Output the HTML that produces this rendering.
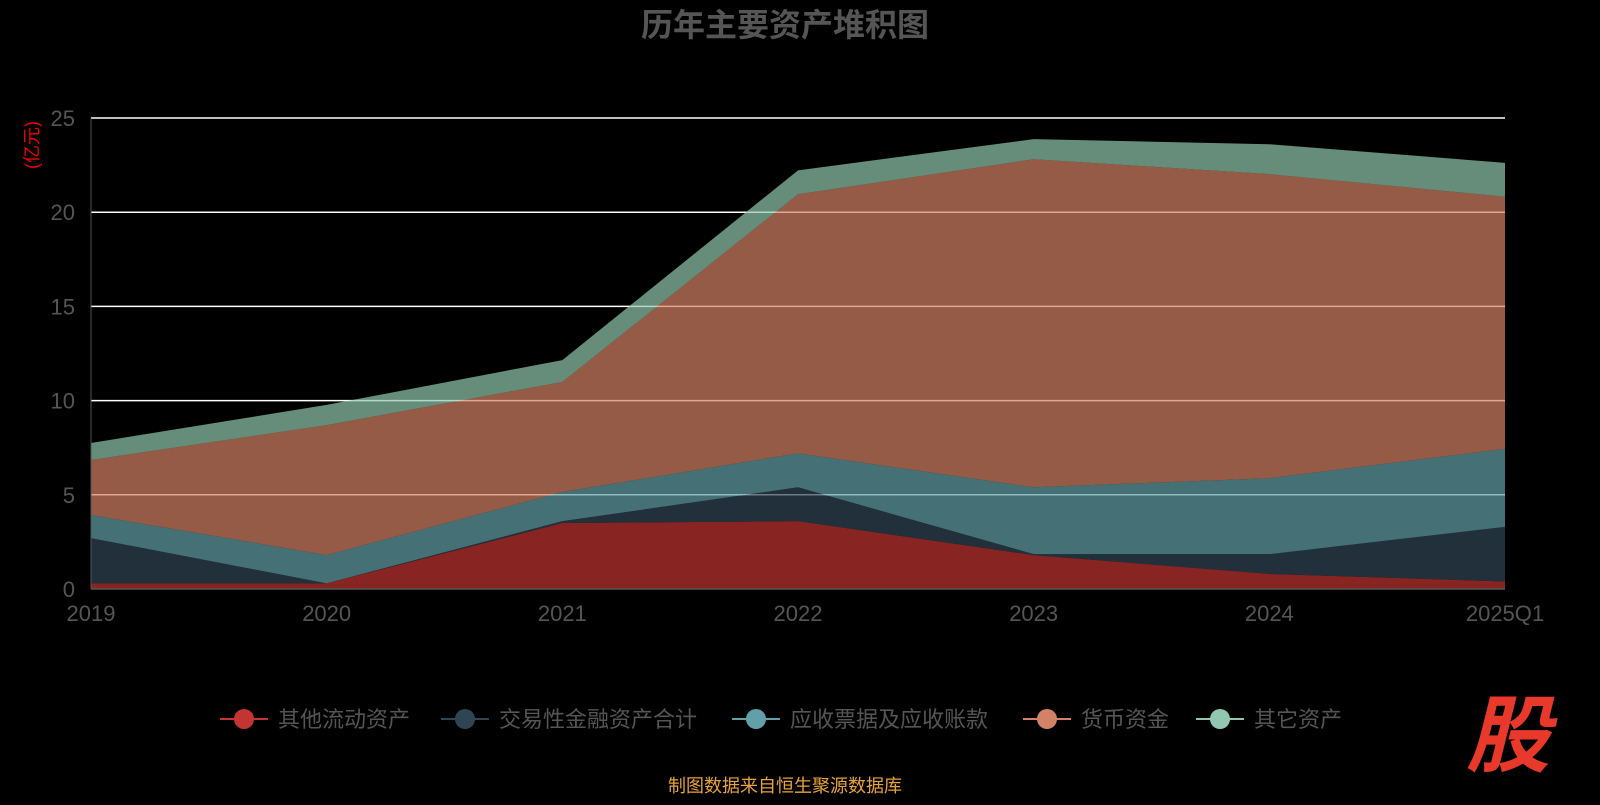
<!DOCTYPE html>
<html><head><meta charset="utf-8"><style>
body{margin:0;background:#000;width:1600px;height:800px;overflow:hidden;font-family:"Liberation Sans","Noto Sans CJK SC",sans-serif}
svg text{font-family:"Liberation Sans","Noto Sans CJK SC",sans-serif}
</style></head><body>
<svg id="chart" width="1600" height="800">
<text x="785" y="36" text-anchor="middle" font-size="32" font-weight="bold" fill="#555">历年主要资产堆积图</text>
<text transform="translate(38,145) rotate(-90)" text-anchor="middle" font-size="18" fill="#e00">(亿元)</text>
<g id="grid"></g><g id="areas"></g><g id="axes"></g>
<g id="legend"></g>
<text x="785" y="792" text-anchor="middle" font-size="18" fill="#e8a33b">制图数据来自恒生聚源数据库</text>
<text x="1508" y="765" text-anchor="middle" font-size="84" font-weight="bold" font-style="italic" fill="#e8392a">股</text>
</svg>
<script>
const categories=["2019","2020","2021","2022","2023","2024","2025Q1"];
const seriesNames=["其他流动资产","交易性金融资产合计","应收票据及应收账款","货币资金","其它资产"];
const s1=[0.3,0.3,3.5,3.6,1.8,0.8,0.4];
const s2=[2.4,0,0.1,1.8,0.05,1.05,2.9];
const s3=[1.23,1.5,1.55,1.8,3.55,4.03,4.14];
const s4=[2.92,6.9,5.84,13.75,17.41,16.14,13.38];
const s5=[0.9,1.07,1.16,1.27,1.07,1.59,1.8];
const yTicks=[0,5,10,15,20,25];
const colors=["#c23531","#2f4554","#61a0a8","#d48265","#91c7ae"];
const NS="http://www.w3.org/2000/svg";
const x0=91,x1=1505,yb=589,yt=118,ymax=25;
const X=i=>x0+(x1-x0)*i/(categories.length-1);
const Y=v=>yb-(yb-yt)*v/ymax;
function mk(tag,attrs,parent){const e=document.createElementNS(NS,tag);for(const k in attrs)e.setAttribute(k,attrs[k]);parent.appendChild(e);return e;}
const grid=document.getElementById('grid'),axes=document.getElementById('axes'),areas=document.getElementById('areas');
yTicks.forEach(t=>{
 if(t>0){const l=mk('line',{x1:x0,x2:x1,y1:Y(t),y2:Y(t),stroke:'#fff','stroke-width':1.5},grid);
 }
 const tx=mk('text',{x:75,y:Y(t)+8,'text-anchor':'end','font-size':22,fill:'#555'},axes);tx.textContent=t;
 
});
const all=[s1,s2,s3,s4,s5];let base=categories.map(()=>0);
all.forEach((s,k)=>{
 const top=base.map((b,i)=>b+s[i]);
 let d=top.map((v,i)=>(i?'L':'M')+X(i)+','+Y(v)).join('');
 for(let i=categories.length-1;i>=0;i--)d+='L'+X(i)+','+Y(base[i]);
 const p=mk('path',{d:d+'Z',fill:colors[k],'fill-opacity':0.7},areas);
 
 base=top;
});
let l=mk('line',{x1:x0,x2:x0,y1:yt,y2:yb,stroke:'#555','stroke-width':1},axes);

l=mk('line',{x1:x0,x2:x1,y1:yb,y2:yb,stroke:'#555','stroke-width':1.5},axes);

categories.forEach((c,i)=>{
 const t=mk('text',{x:X(i),y:621,'text-anchor':'middle','font-size':22,fill:'#555'},axes);t.textContent=c;
 
});
const lg=document.getElementById('legend');
const lx=[220,441,732,1023,1196];
seriesNames.forEach((n,k)=>{
 const g=mk('g',{},lg);
 mk('line',{x1:lx[k],x2:lx[k]+48,y1:719,y2:719,stroke:colors[k],'stroke-width':2},g);
 mk('circle',{cx:lx[k]+24,cy:719,r:10,fill:colors[k]},g);
 const t=mk('text',{x:lx[k]+58,y:727,'font-size':22,fill:'#555'},g);t.textContent=n;
});
</script>
</body></html>
